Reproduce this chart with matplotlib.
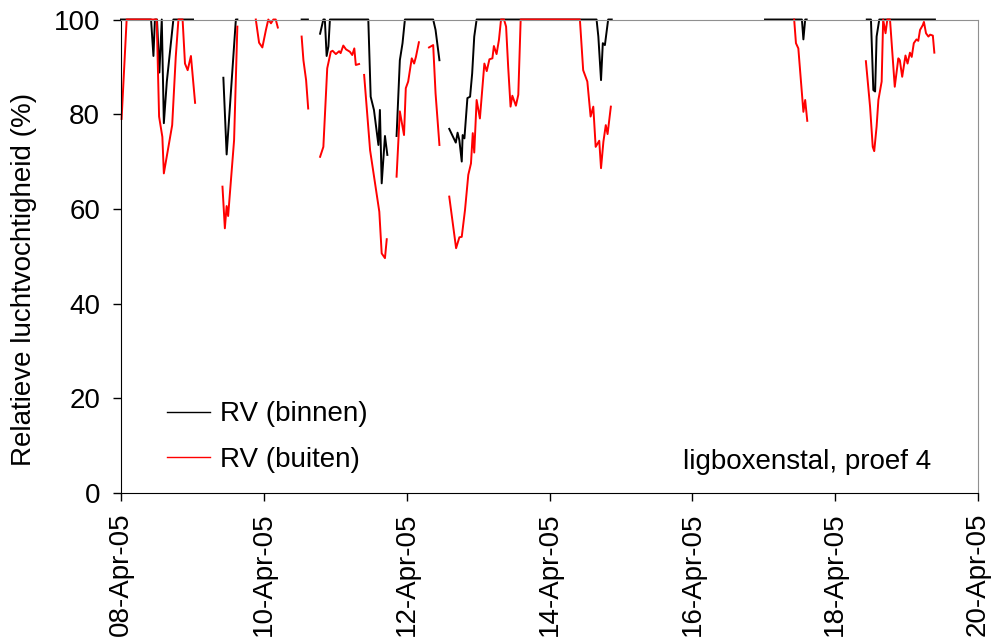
import matplotlib as mpl
mpl.use("Agg")
import matplotlib.pyplot as pp
import matplotlib.dates as mdates
import numpy as np
import pandas as pd

nan = np.nan
start = pd.Timestamp("2005-04-08")

# hours since 08-Apr-05 00:00, NaN marks a gap in the record
binnen_hours = [0.0, 10.1, 10.9, 11.4, 12.1, 12.9, 13.7, 14.4, 15.4, 17.6, 24.2, nan,
                34.4, 35.5, 38.6, 39.1, nan,
                60.7, 62.8, nan,
                66.9, 68.0, 68.5, 69.1, 69.7, 70.2, 83.1, 83.9, 85.0, 86.5, 87.0, 87.6, 88.7, 89.5, nan,
                92.6, 93.7, 94.6, 95.4, 104.9, 105.7, 107.0, nan,
                110.3, 112.5, 113.1, 113.7, 114.5, 114.8, 115.4, 116.4, 117.3, 118.0, 118.7, 119.5,
                159.8, 160.4, 161.3, 161.9, 162.6, 163.7, 164.9, nan,
                216.4, 228.8, 229.3, 229.9, 230.4, nan,
                250.6, 252.0, 252.8, 253.4, 253.9, 254.8, 273.5]
binnen_rv = [100, 100, 92.3, 100, 100, 88.8, 100, 78.1, 86.9, 100, 100, nan,
             87.7, 71.5, 100, 100, nan,
             100, 100, nan,
             97.0, 100, 100, 92.3, 94.3, 100, 100, 83.7, 80.9, 73.5, 80.9, 65.4, 75.4, 71.4, nan,
             75.4, 91.4, 95.0, 100, 100, 97.8, 91.4, nan,
             76.9, 74.0, 76.1, 74.5, 70.0, 75.6, 74.9, 83.4, 83.7, 88.6, 96.4, 100,
             100, 96.4, 87.2, 95.0, 94.6, 100, 100, nan,
             100, 100, 95.8, 100, 100, nan,
             100, 100, 85.1, 84.8, 96.4, 100, 100]

buiten_hours = [0.2, 1.9, 12.0, 12.8, 13.9, 14.4, 17.2, 18.4, 19.3, 20.7, 21.5, 22.4, 23.5, 24.9, nan,
                34.1, 34.9, 35.5, 36.0, 38.0, 39.1, nan,
                45.3, 46.4, 47.5, 48.7, 49.5, 50.4, 51.2, 52.0, 52.7, nan,
                60.7, 61.3, 62.2, 62.9, nan,
                66.9, 68.0, 69.3, 70.5, 71.1, 72.2, 73.3, 73.8, 74.7, 75.6, 76.9, 77.7, 78.4, 78.9, 80.0, nan,
                81.7, 83.7, 86.8, 87.6, 88.7, 89.3, nan,
                92.6, 93.7, 95.1, 95.7, 96.5, 97.7, 98.5, 99.1, 100.1, nan,
                103.5, 104.9, 105.7, 107.0, nan,
                110.3, 112.6, 113.7, 114.5, 115.6, 116.7, 117.6, 118.2, 118.7, 119.5, 120.6, 122.1, 122.9,
                123.8, 124.8, 125.3, 126.2, 127.0, 127.7, 128.7, 129.4, 130.1, 130.9, 131.5, 132.7, 133.5,
                134.3, 154.2, 155.3, 156.7, 157.8, 158.7, 159.5, 160.7, 161.3, 162.1, 162.9, 163.5, 164.6, nan,
                226.2, 226.8, 227.6, 229.3, 229.9, 230.6, nan,
                250.3, 251.7, 252.6, 253.1, 253.9, 254.5, 255.6, 256.1, 256.9, 257.5, 258.4, 260.0, 261.2,
                261.7, 262.5, 263.6, 264.3, 265.1, 265.7, 266.4, 267.3, 267.9, 268.5, 269.4, 269.8, 270.5,
                271.3, 271.9, 272.8, 273.3]
buiten_rv = [79.0, 100, 100, 79.5, 75.2, 67.5, 77.7, 92.1, 100, 100, 90.7, 89.3, 92.3, 82.4, nan,
             64.7, 55.9, 60.6, 58.5, 74.5, 98.5, nan,
             100, 95.1, 94.1, 97.8, 100, 99.2, 100, 100, 98.3, nan,
             96.4, 91.4, 87.2, 81.2, nan,
             71.0, 73.1, 89.7, 93.2, 93.4, 92.7, 93.3, 92.9, 94.5, 93.7, 93.2, 92.5, 93.9, 90.4, 90.6, nan,
             88.3, 72.4, 59.4, 50.6, 49.6, 53.6, nan,
             66.8, 80.6, 75.6, 85.5, 86.9, 91.8, 90.7, 92.1, 95.2, nan,
             94.1, 94.6, 84.4, 73.5, nan,
             62.6, 51.7, 54.0, 54.1, 59.8, 67.2, 69.6, 76.0, 71.9, 83.0, 79.1, 90.7, 89.1,
             91.6, 91.8, 94.4, 92.7, 95.7, 100, 100, 98.5, 90.0, 81.6, 83.9, 81.8, 84.1,
             100, 100, 89.3, 86.9, 79.5, 81.6, 73.1, 74.4, 68.6, 74.2, 77.7, 75.8, 81.6, nan,
             100, 95.0, 93.9, 80.5, 83.0, 78.6, nan,
             91.2, 81.6, 73.1, 72.2, 77.4, 83.0, 86.9, 100, 97.1, 100, 100, 85.8, 91.8,
             91.4, 87.9, 92.4, 90.7, 93.0, 92.1, 95.0, 95.8, 95.5, 97.8, 98.8, 99.5, 97.1,
             96.4, 96.8, 96.6, 93.0]

y_ticks = [0, 20, 40, 60, 80, 100]


def to_times(hours):
    return [start + pd.Timedelta(hours=h) if not np.isnan(h) else pd.NaT for h in hours]


pp.rcParams["font.family"] = ["Liberation Sans", "DejaVu Sans"]
pp.rcParams["font.size"] = 20

fig = pp.figure(figsize=(9.95, 6.44), dpi=100)
ax = fig.add_axes([0.1216, 0.2345, 0.8614, 0.7352])

tb = pd.Series(binnen_rv, index=to_times(binnen_hours))
tr = pd.Series(buiten_rv, index=to_times(buiten_hours))
ax.plot(tb.index, tb.values, color="black", lw=1.4, label="RV (binnen)", clip_on=False)
ax.plot(tr.index, tr.values, color="#ff0000", lw=1.4, label="RV (buiten)", clip_on=False)

ax.set_xlim(pd.Timestamp("2005-04-08"), pd.Timestamp("2005-04-20"))
ax.set_ylim(0, 100)
ax.set_yticks(y_ticks)
ax.xaxis.set_major_locator(mdates.DayLocator(interval=2))
ax.xaxis.set_major_formatter(mdates.DateFormatter("%d-%b-%y"))
pp.setp(ax.get_xticklabels(), rotation=90)
ax.tick_params(direction="out", length=6, width=1)
ax.tick_params(axis="y", pad=9)
ax.tick_params(axis="x", pad=8)

for s in ["top", "right"]:
    ax.spines[s].set_color("#909090")
for s in ["left", "bottom"]:
    ax.spines[s].set_color("black")

ax.set_ylabel("Relatieve luchtvochtigheid (%)")
ax.yaxis.set_label_coords(-0.098, 0.45)

leg = ax.legend(loc="center left", bbox_to_anchor=(0.0537, 0.118), frameon=False,
                handlelength=1.55, handletextpad=0.35, labelspacing=0.7,
                borderpad=0, borderaxespad=0)
for h in leg.get_lines():
    h.set_linewidth(1.0)
ax.text(0.80, 0.066, "ligboxenstal, proef 4", transform=ax.transAxes,
        ha="center", va="center")

pp.savefig("out.png", dpi=100)
